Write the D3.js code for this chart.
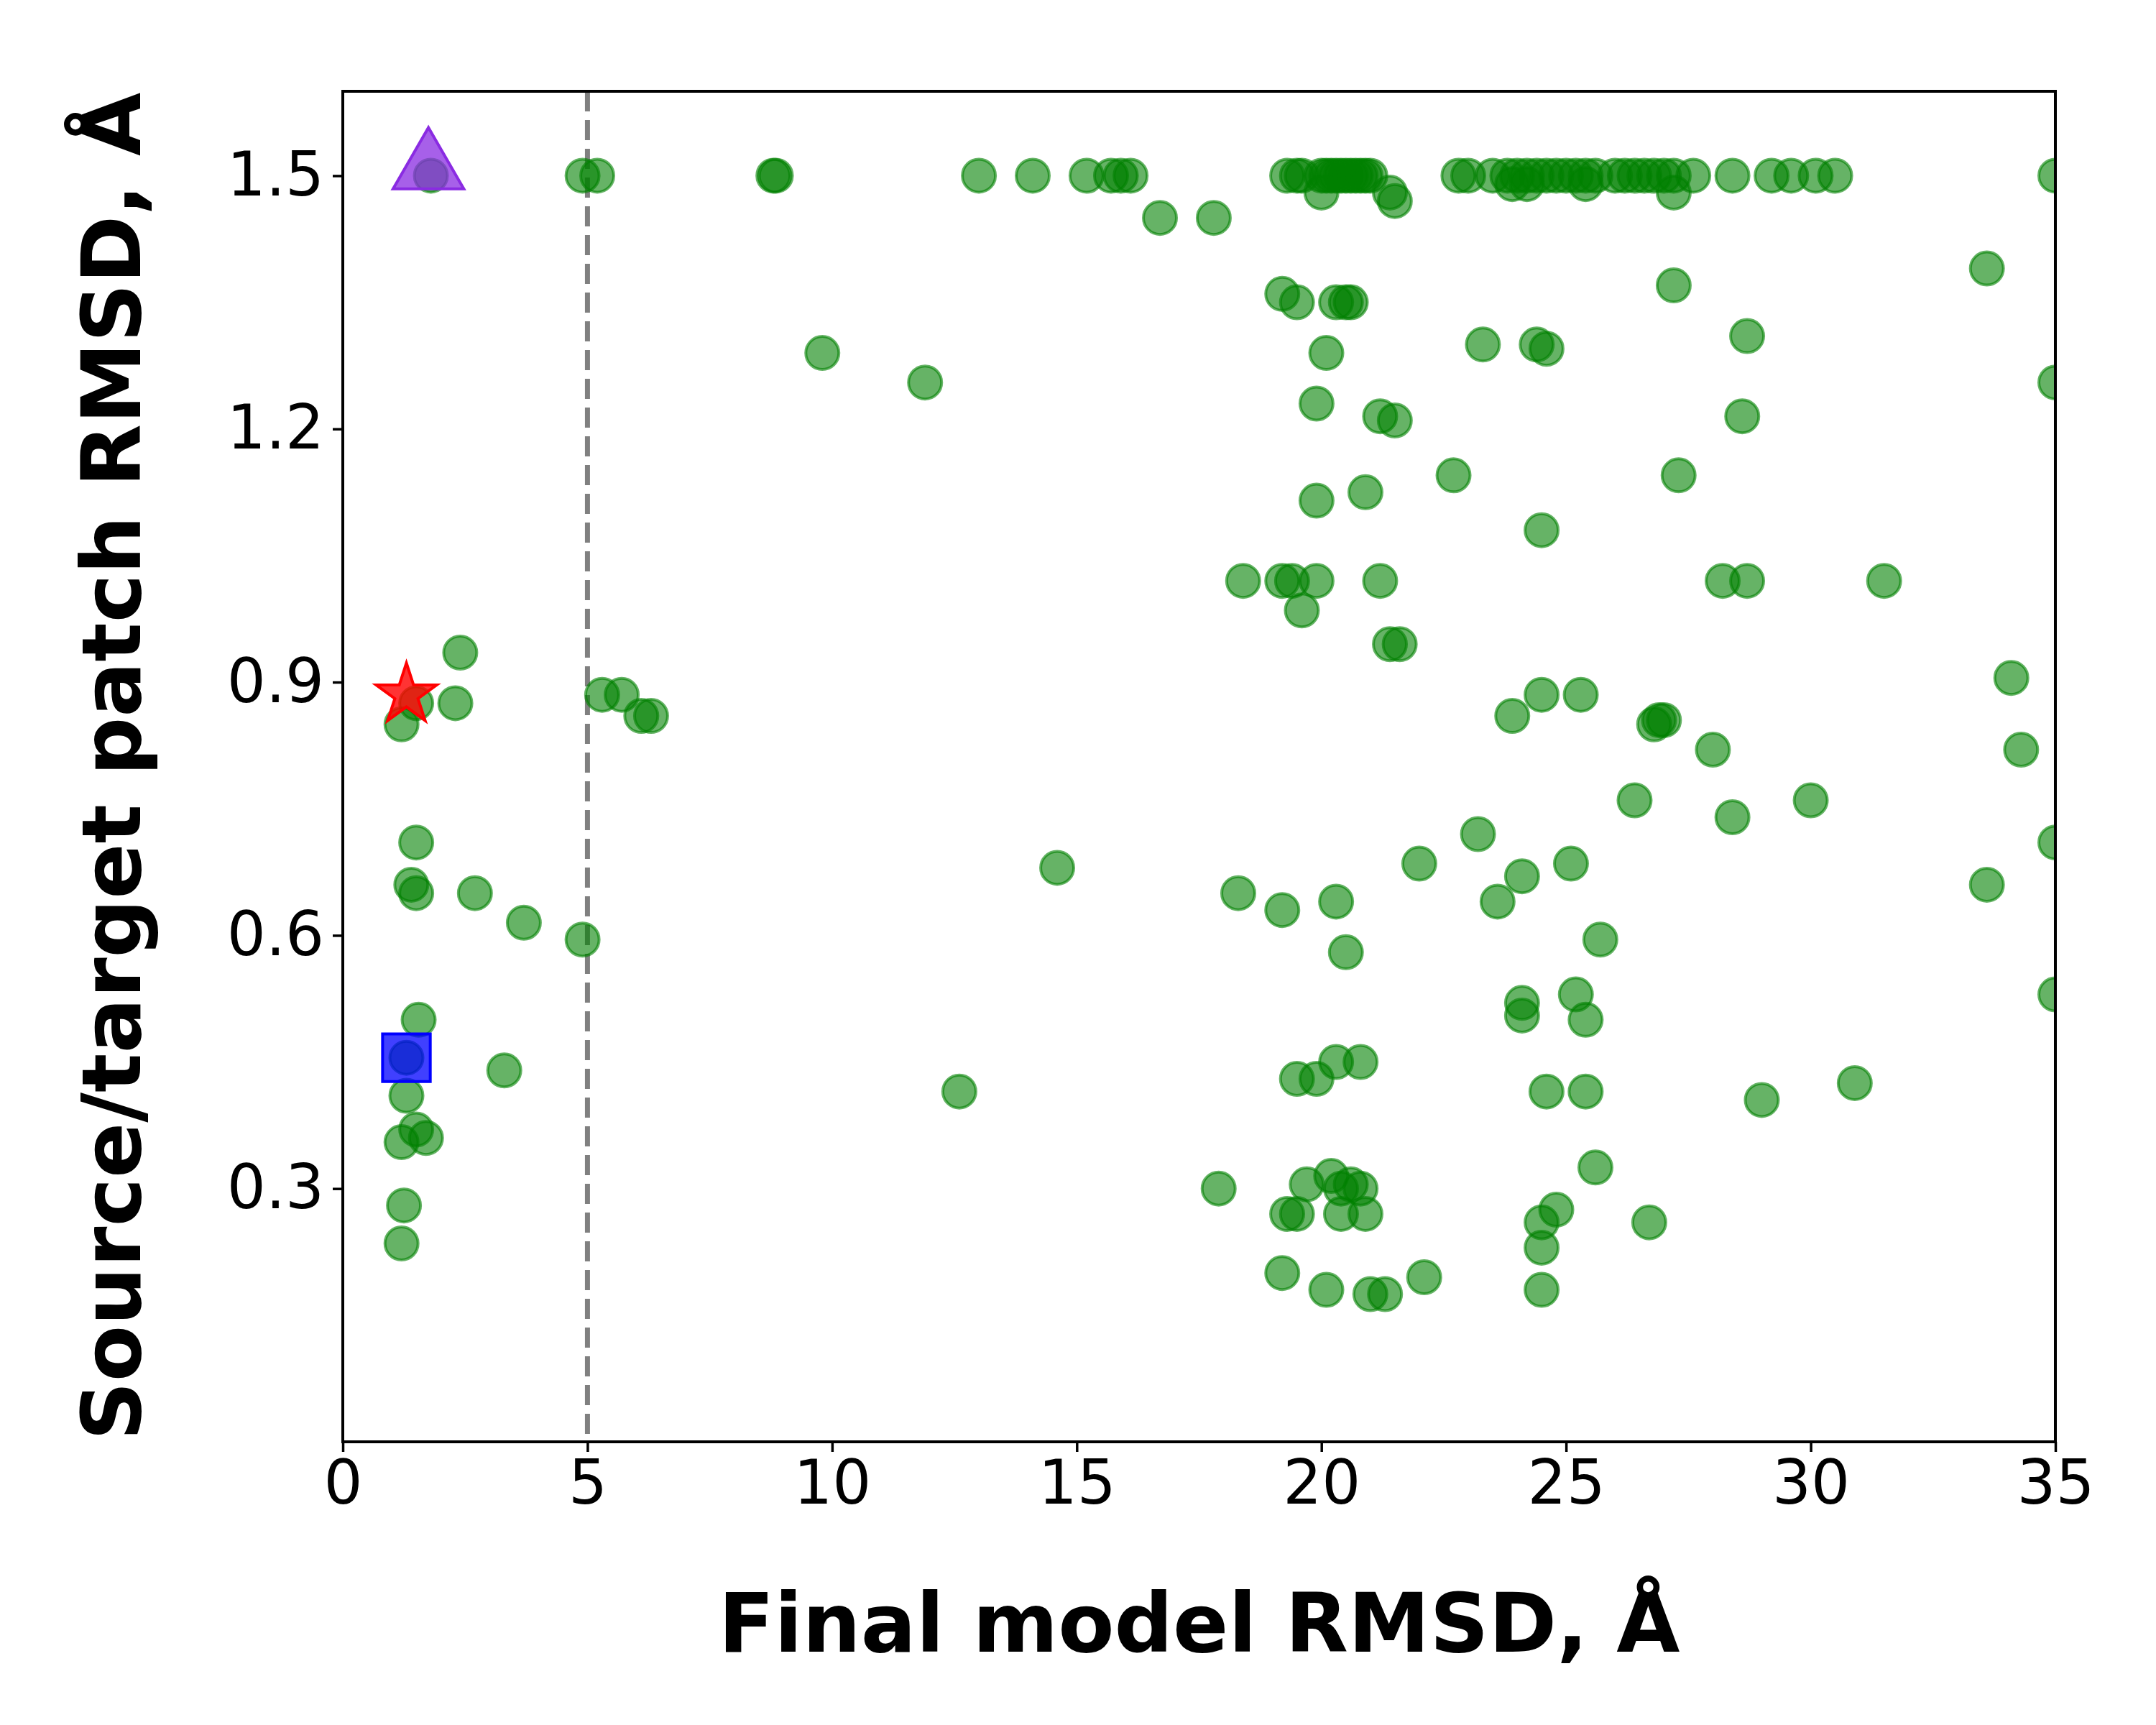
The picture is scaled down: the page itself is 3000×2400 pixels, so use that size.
<!DOCTYPE html>
<html><head><meta charset="utf-8">
<script src="https://cdn.jsdelivr.net/npm/d3@7"></script>
<style>body{margin:0;background:#fff}</style>
</head><body>
<svg id="chart" width="3000" height="2400"></svg>
<script>
// decoy points: [final model RMSD, patch RMSD]
var decoyX = [1.8,4.9,5.2,8.8,8.85,13.0,14.1,15.2,15.7,15.9,16.1,19.3,19.5,19.6,20.0,20.1,20.2,20.3,20.4,20.5,20.6,20.7,20.8,20.9,21.0,
  22.8,23.0,23.5,23.8,24.0,24.2,24.4,24.6,24.8,25.0,25.2,25.4,25.6,26.0,26.2,26.4,26.6,26.8,27.0,27.2,27.6,28.4,29.2,29.6,30.1,30.5,35.0,
  20.0,21.4,21.5,24.2,25.4,27.2,23.9,
  16.7,17.8,33.6,27.2,19.2,19.5,20.3,20.5,20.6,28.7,23.3,24.4,24.6,9.8,20.1,11.9,35.0,19.9,21.2,28.6,21.5,22.7,27.3,20.9,19.9,24.5,
  18.4,19.2,19.4,19.9,21.2,28.2,28.7,31.5,19.6,21.4,21.6,2.4,34.1,5.3,5.7,24.5,25.3,1.5,2.3,6.1,6.3,23.9,26.9,27.0,1.2,26.8,
  28.0,34.3,26.4,30.0,28.4,23.2,1.5,35.0,22.0,25.1,14.6,24.1,1.4,33.6,1.5,2.7,18.3,20.3,23.6,19.2,3.7,4.9,25.7,20.5,
  25.2,35.0,24.1,24.1,1.55,25.4,1.3,20.3,20.8,3.3,19.5,19.9,30.9,12.6,24.6,25.4,1.3,29.0,1.5,1.7,1.2,25.6,20.2,19.7,20.6,
  17.9,20.4,20.8,1.25,24.8,19.3,19.5,20.4,20.9,24.5,26.7,1.2,24.5,19.2,22.1,20.1,24.5,21.0,21.3];
var decoyY = [1.5,1.5,1.5,1.5,1.5,1.5,1.5,1.5,1.5,1.5,1.5,1.5,1.5,1.5,1.5,1.5,1.5,1.5,1.5,1.5,1.5,1.5,1.5,1.5,1.5,
  1.5,1.5,1.5,1.5,1.5,1.5,1.5,1.5,1.5,1.5,1.5,1.5,1.5,1.5,1.5,1.5,1.5,1.5,1.5,1.5,1.5,1.5,1.5,1.5,1.5,1.5,1.5,
  1.48,1.48,1.47,1.49,1.49,1.48,1.49,
  1.45,1.45,1.39,1.37,1.36,1.35,1.35,1.35,1.35,1.31,1.30,1.30,1.295,1.29,1.29,1.255,1.255,1.23,1.215,1.215,1.21,1.145,1.145,1.125,1.115,1.08,
  1.02,1.02,1.02,1.02,1.02,1.02,1.02,1.02,0.985,0.945,0.945,0.935,0.905,0.885,0.885,0.885,0.885,0.875,0.875,0.86,0.86,0.86,0.855,0.855,0.85,0.85,
  0.82,0.82,0.76,0.76,0.74,0.72,0.71,0.71,0.685,0.685,0.68,0.67,0.66,0.66,0.65,0.65,0.65,0.64,0.64,0.63,0.615,0.595,0.595,0.58,
  0.53,0.53,0.52,0.505,0.50,0.50,0.455,0.45,0.45,0.44,0.43,0.43,0.425,0.415,0.415,0.415,0.41,0.405,0.37,0.36,0.355,0.325,0.315,0.305,0.305,
  0.30,0.30,0.30,0.28,0.275,0.27,0.27,0.27,0.27,0.26,0.26,0.235,0.23,0.20,0.195,0.18,0.18,0.175,0.175];
var triangleXY = [1.75, 1.5];
var starXY = [1.3, 0.885];
var squareXY = [1.3, 0.455];
var xTicks = [0,5,10,15,20,25,30,35];
var yTicks = [0.3,0.6,0.9,1.2,1.5];
var cutoff = 5;

var L = 477, R = 2860, T = 127, B = 2006;
var svg = d3.select("#chart");
var x = d3.scaleLinear().domain([0,35]).range([L,R]);
var y = d3.scaleLinear().domain([0,1.6]).range([B,T]);

svg.append("clipPath").attr("id","clip").append("rect")
  .attr("x",L).attr("y",T).attr("width",R-L).attr("height",B-T);
var g = svg.append("g").attr("clip-path","url(#clip)");

g.append("line").attr("x1",x(cutoff)).attr("x2",x(cutoff)).attr("y1",T).attr("y2",B)
  .attr("stroke","#808080").attr("stroke-width",7).attr("stroke-dasharray","28,12");

g.selectAll(".dot").data(decoyX).enter().append("circle")
  .attr("cx",function(d){return x(d);})
  .attr("cy",function(d,i){return y(decoyY[i]);})
  .attr("r",23)
  .attr("fill","green").attr("fill-opacity",0.6)
  .attr("stroke","green").attr("stroke-opacity",0.6).attr("stroke-width",4);

g.append("path").attr("d",d3.symbol(d3.symbolTriangle,4200)())
  .attr("transform","translate("+x(triangleXY[0])+","+(y(triangleXY[1])-10)+")")
  .attr("fill","#8a2be2").attr("fill-opacity",0.75).attr("stroke","#8a2be2").attr("stroke-width",4);
g.append("path").attr("d",d3.symbol(d3.symbolStar,2200)())
  .attr("transform","translate("+x(starXY[0])+","+y(starXY[1])+")")
  .attr("fill","red").attr("fill-opacity",0.8).attr("stroke","red").attr("stroke-width",4);
g.append("path").attr("d",d3.symbol(d3.symbolSquare,4400)())
  .attr("transform","translate("+x(squareXY[0])+","+y(squareXY[1])+")")
  .attr("fill","blue").attr("fill-opacity",0.75).attr("stroke","blue").attr("stroke-width",4);

svg.append("rect").attr("x",L).attr("y",T).attr("width",R-L).attr("height",B-T)
  .attr("fill","none").attr("stroke","#000").attr("stroke-width",4);

var xa = svg.append("g").attr("transform","translate(0,"+B+")")
  .call(d3.axisBottom(x).tickValues(xTicks).tickSize(14).tickPadding(12));
var ya = svg.append("g").attr("transform","translate("+L+",0)")
  .call(d3.axisLeft(y).tickValues(yTicks).tickFormat(d3.format(".1f")).tickSize(14).tickPadding(12));
[xa,ya].forEach(function(a){
  a.select(".domain").remove();
  a.selectAll("line").attr("stroke-width",3.5);
  a.selectAll("text").attr("font-family","DejaVu Sans").attr("font-size",85).attr("fill","#000");
});

svg.append("text").attr("x",(L+R)/2).attr("y",2298).attr("text-anchor","middle")
  .attr("font-family","DejaVu Sans").attr("font-weight","bold").attr("font-size",114)
  .text("Final model RMSD, Å");
svg.append("text").attr("transform","translate(195,"+((T+B)/2)+")rotate(-90)").attr("text-anchor","middle")
  .attr("font-family","DejaVu Sans").attr("font-weight","bold").attr("font-size",114)
  .text("Source/target patch RMSD, Å");
</script>
</body></html>
